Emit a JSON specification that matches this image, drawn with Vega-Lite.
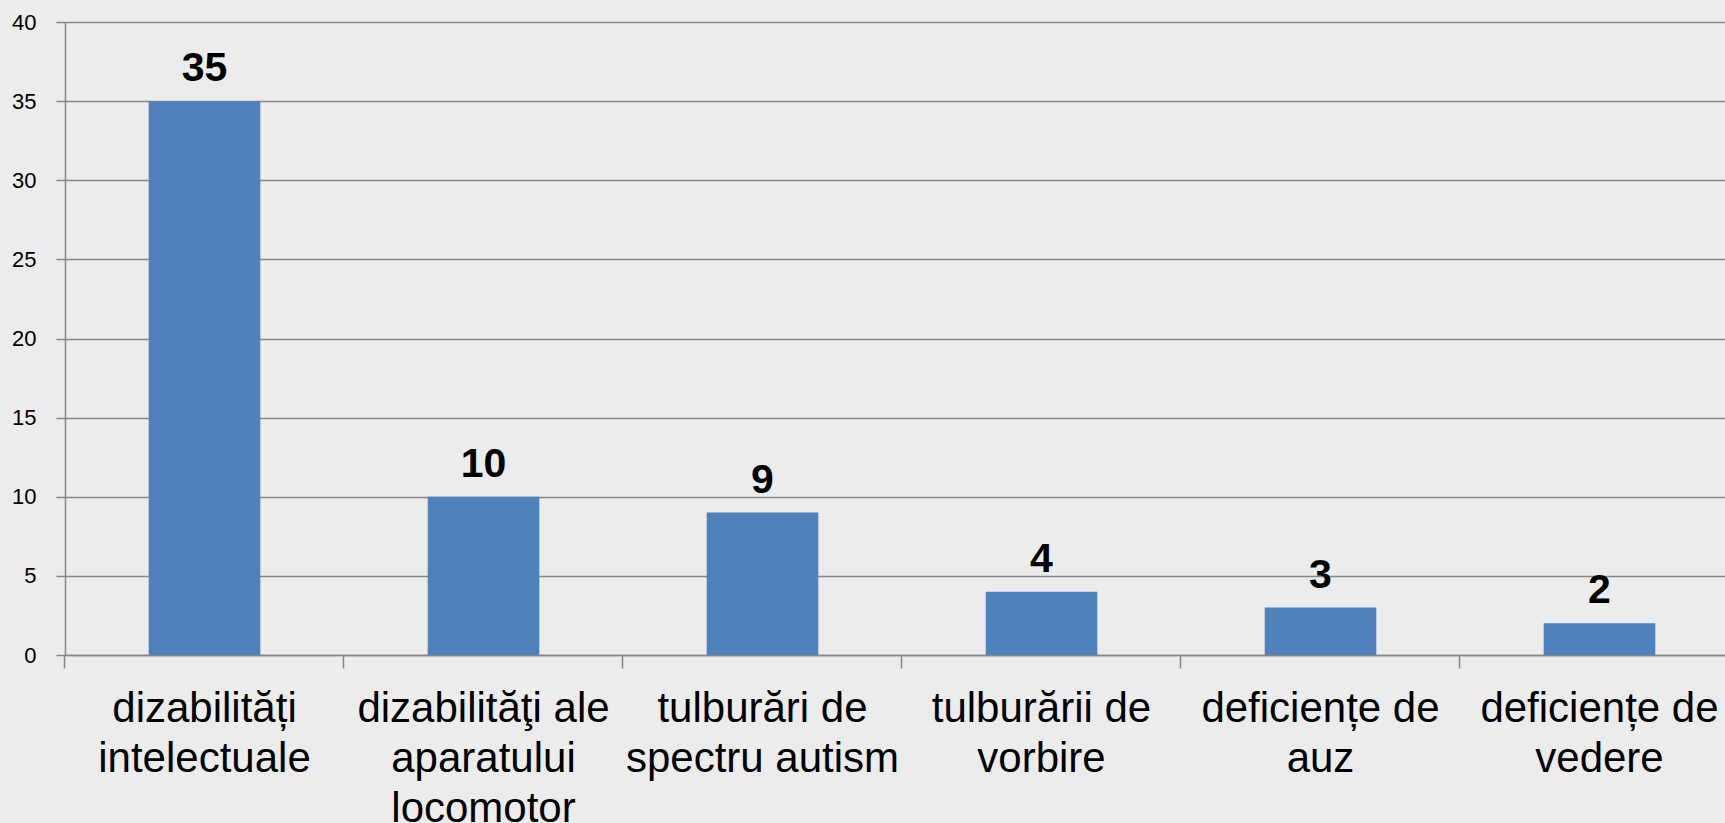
{
  "$schema": "https://vega.github.io/schema/vega-lite/v6.json",
  "autosize": "none",
  "width": 1660,
  "height": 633,
  "padding": {"left": 65, "top": 22, "right": 0, "bottom": 168},
  "background": "#ECECEC",
  "config": {
    "view": {"stroke": null},
    "font": "Liberation Sans"
  },
  "data": {
    "values": [
      {"cat": "dizabilități|intelectuale", "value": 35},
      {"cat": "dizabilităţi ale|aparatului|locomotor", "value": 10},
      {"cat": "tulburări de|spectru autism", "value": 9},
      {"cat": "tulburării de|vorbire", "value": 4},
      {"cat": "deficiențe de|auz", "value": 3},
      {"cat": "deficiențe de|vedere", "value": 2}
    ]
  },
  "encoding": {
    "x": {
      "field": "cat", "type": "nominal", "sort": null,
      "scale": {"paddingInner": 0.6, "paddingOuter": 0.3, "range": [0, 1674]},
      "axis": {
        "title": null,
        "labelAngle": 0,
        "labelExpr": "split(datum.label, '|')",
        "labelFont": "Liberation Sans",
        "labelFontSize": 42,
        "labelLineHeight": 50,
        "labelColor": "#000000",
        "labelPadding": 20,
        "labelLimit": 0,
        "bandPosition": -0.75,
        "tickSize": 13,
        "tickColor": "#878787",
        "tickWidth": 1.5,
        "domainColor": "#878787",
        "domainWidth": 1.5,
        "labelBaseline": "top"
      }
    },
    "y": {
      "field": "value", "type": "quantitative",
      "scale": {"domain": [0, 40]},
      "axis": {
        "title": null,
        "values": [0, 5, 10, 15, 20, 25, 30, 35, 40],
        "labelFont": "Liberation Sans",
        "labelFontSize": 22,
        "labelColor": "#000000",
        "labelPadding": 20,
        "tickSize": 9,
        "tickColor": "#878787",
        "tickWidth": 1.5,
        "domainColor": "#878787",
        "domainWidth": 1.5,
        "gridColor": "#878787",
        "gridWidth": 1.5,
        "grid": true
      }
    }
  },
  "layer": [
    {"mark": {"type": "bar", "color": "#4F81BD"}},
    {
      "mark": {"type": "text", "font": "Liberation Sans", "fontWeight": "bold", "fontSize": 41, "baseline": "alphabetic", "dy": -20, "color": "#000000"},
      "encoding": {"text": {"field": "value", "type": "quantitative"}}
    }
  ]
}
